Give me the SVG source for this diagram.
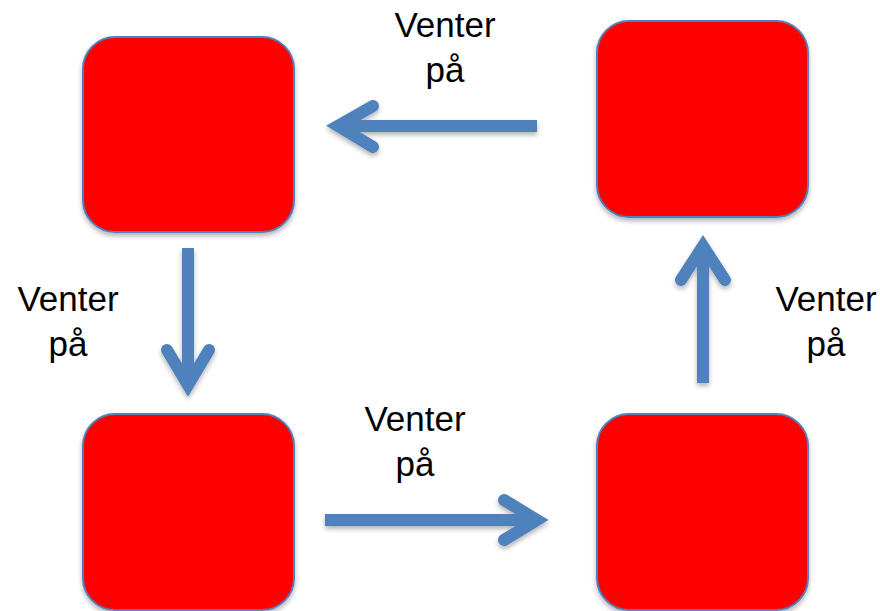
<svg xmlns="http://www.w3.org/2000/svg" width="880" height="611" viewBox="0 0 880 611">
<defs>
<filter id="sh" x="-20%" y="-20%" width="140%" height="140%">
<feGaussianBlur in="SourceAlpha" stdDeviation="2.5"/>
<feOffset dx="0" dy="3" result="b"/>
<feComponentTransfer><feFuncA type="linear" slope="0.3"/></feComponentTransfer>
<feMerge><feMergeNode/><feMergeNode in="SourceGraphic"/></feMerge>
</filter>
</defs>
<style>
.box{fill:#FF0000;stroke:#4F81BD;stroke-width:2;filter:url(#sh)}
.arr{fill:none;stroke:#4F81BD;stroke-width:12;stroke-linecap:round;stroke-linejoin:miter;stroke-miterlimit:10}
.shaft{fill:none;stroke:#4F81BD;stroke-width:12;stroke-linecap:butt}
.lbl{font-family:"Liberation Sans",Arial,sans-serif;font-size:35px;fill:#000;text-anchor:middle}
</style>
<rect width="880" height="611" fill="#fff"/>
<g id="node-top-left"><rect class="box" x="83" y="37" width="211" height="195" rx="32"/></g>
<g id="node-top-right"><rect class="box" x="597" y="21" width="211" height="196" rx="32"/></g>
<g id="node-bottom-left"><rect class="box" x="83" y="414" width="211" height="196" rx="32"/></g>
<g id="node-bottom-right"><rect class="box" x="597" y="414" width="211" height="196" rx="32"/></g>
<g id="connectors" filter="url(#sh)">
<g>
<line class="shaft" x1="537" y1="126" x2="340" y2="126"/>
<path class="arr" d="M373,106 L338,126 L373,147"/>
</g>
<g>
<line class="shaft" x1="188" y1="248" x2="188" y2="384"/>
<path class="arr" d="M167,350 L188,385 L209,350"/>
</g>
<g>
<line class="shaft" x1="703" y1="383" x2="703" y2="248"/>
<path class="arr" d="M681,280 L703,246 L725,280"/>
</g>
<g>
<line class="shaft" x1="325" y1="520" x2="535" y2="520"/>
<path class="arr" d="M504,500 L537,520 L504,540"/>
</g>
</g>
<g id="labels">
<text class="lbl" x="445" y="37">Venter</text>
<text class="lbl" x="445" y="82">på</text>
<text class="lbl" x="68" y="311">Venter</text>
<text class="lbl" x="68" y="356">på</text>
<text class="lbl" x="826" y="311">Venter</text>
<text class="lbl" x="826" y="356">på</text>
<text class="lbl" x="415" y="431">Venter</text>
<text class="lbl" x="415" y="476">på</text>
</g>
</svg>
